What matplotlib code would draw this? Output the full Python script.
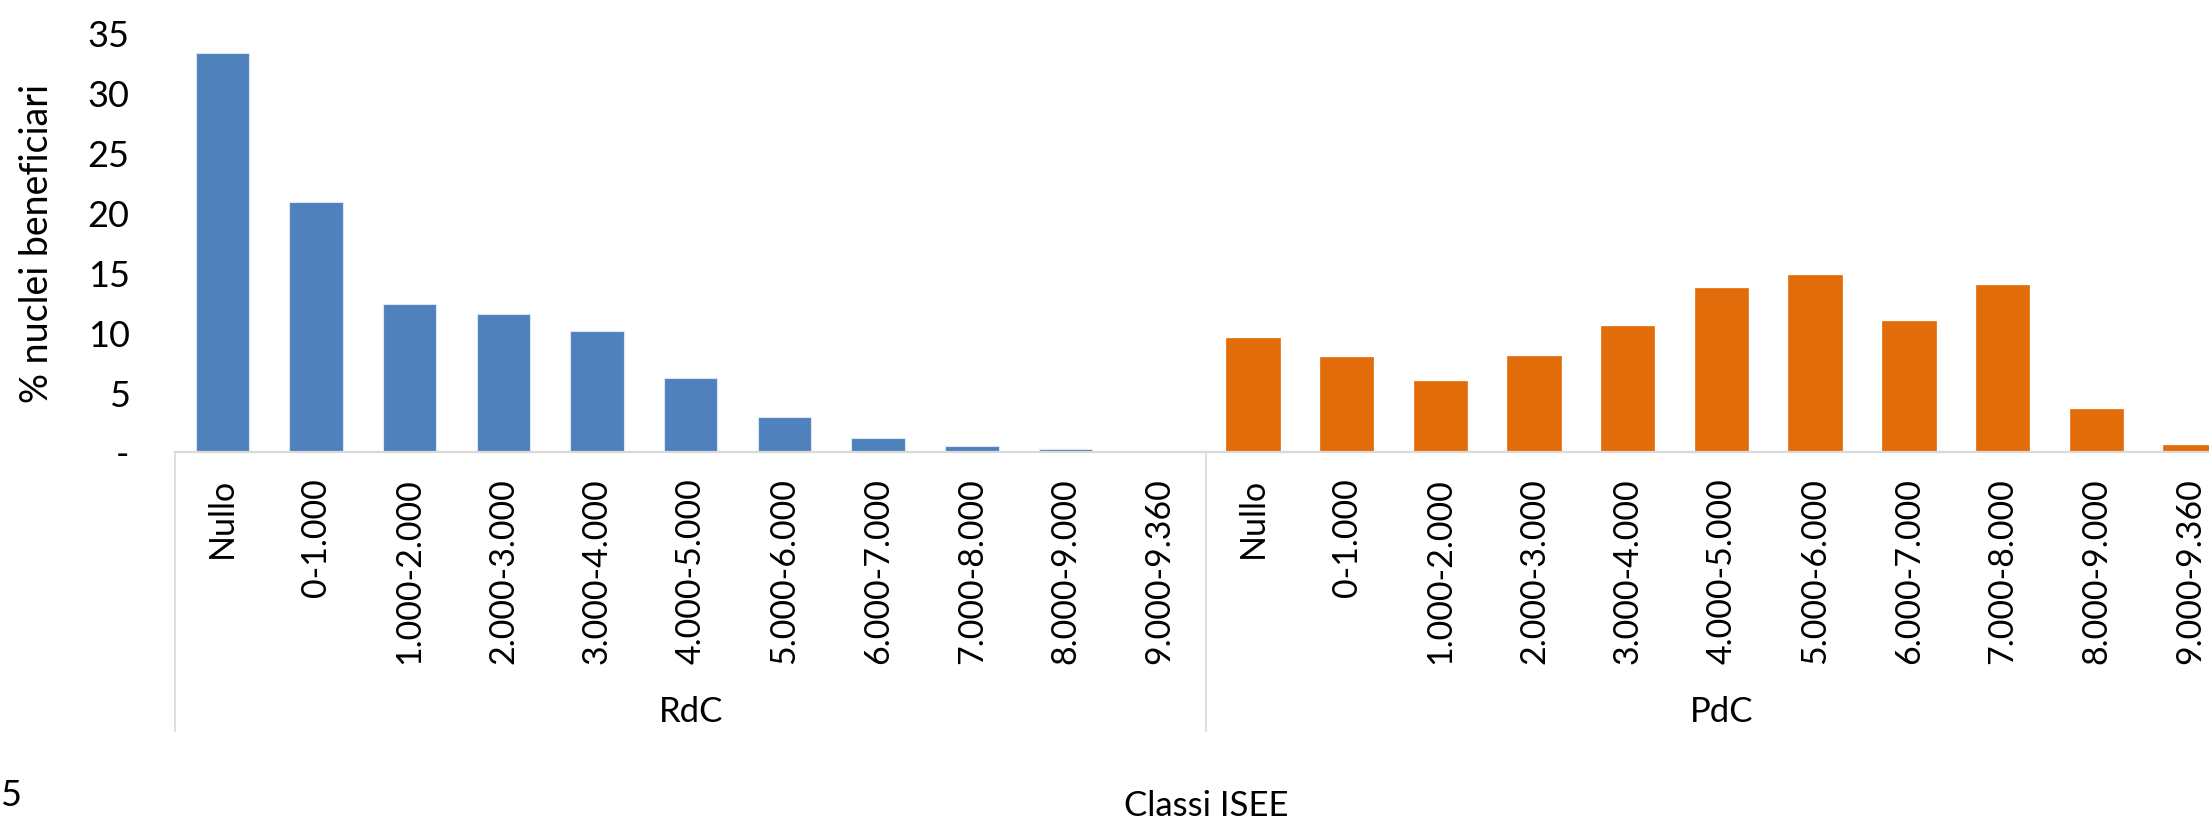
import matplotlib
matplotlib.use("Agg")
import matplotlib.pyplot as plt
import matplotlib.transforms as mtransforms

plt.rcParams['font.family'] = ['Lato', 'DejaVu Sans']

# data
classes = ['Nullo', '0-1.000', '1.000-2.000', '2.000-3.000', '3.000-4.000',
           '4.000-5.000', '5.000-6.000', '6.000-7.000', '7.000-8.000',
           '8.000-9.000', '9.000-9.360']
groups = ['RdC', 'PdC']
rdc = [33.3, 20.9, 12.4, 11.5, 10.1, 6.2, 2.9, 1.2, 0.53, 0.25, 0.05]
pdc = [9.5, 7.9, 5.9, 8.0, 10.5, 13.7, 14.8, 10.9, 13.95, 3.6, 0.6]
yticks = [0, 5, 10, 15, 20, 25, 30, 35]

blue = '#4F81BD'
orange = '#E36C0A'
grid_grey = '#D9D9D9'

fig = plt.figure(figsize=(22.09, 8.2), dpi=100)
# axes runs past the right border on purpose (the reference is cropped)
ax = fig.add_axes([0.0794, 0.4476, 0.9332, 0.511])

n = len(classes)
x_rdc = list(range(n))
x_pdc = [i + n for i in range(n)]
ax.bar(x_rdc, rdc, width=0.57, color=blue, edgecolor='#DCE6F2', linewidth=0.8)
ax.bar(x_pdc, pdc, width=0.57, color=orange, edgecolor=orange, linewidth=0.5)

ax.set_xlim(-0.5, 2 * n - 0.5)
ax.set_ylim(0, 35)

for s in ['top', 'right', 'left']:
    ax.spines[s].set_visible(False)
ax.spines['bottom'].set_color(grid_grey)
ax.spines['bottom'].set_linewidth(1.6)

ax.set_yticks(yticks)
ax.set_yticklabels(['-' if v == 0 else str(v) for v in yticks], fontsize=26)
ax.tick_params(axis='y', length=0, pad=33)

ax.set_xticks(x_rdc + x_pdc)
ax.set_xticklabels(classes + classes, rotation=90, fontsize=24.5, va='top', ha='center')
ax.tick_params(axis='x', length=0, pad=18)

ax.set_ylabel('% nuclei beneficiari', fontsize=27)
ax.yaxis.set_label_coords(-0.0585, 0.5)

trans = mtransforms.blended_transform_factory(ax.transData, ax.transAxes)
# group separators of the two level category axis
for b in [-0.5, n - 0.5, 2 * n - 0.5]:
    ax.plot([b, b], [0, -0.665], transform=trans, color=grid_grey, lw=1.2, clip_on=False)
for k, g in enumerate(groups):
    ax.text(k * n + (n - 1) / 2, -0.618, g, transform=trans, fontsize=25,
            ha='center', va='center')

ax.text(0.5, -0.842, 'Classi ISEE', transform=ax.transAxes, fontsize=25,
        ha='center', va='center')
fig.text(0.0, 0.03, '5', fontsize=26, ha='left', va='center')

fig.savefig('out.png', dpi=100)
